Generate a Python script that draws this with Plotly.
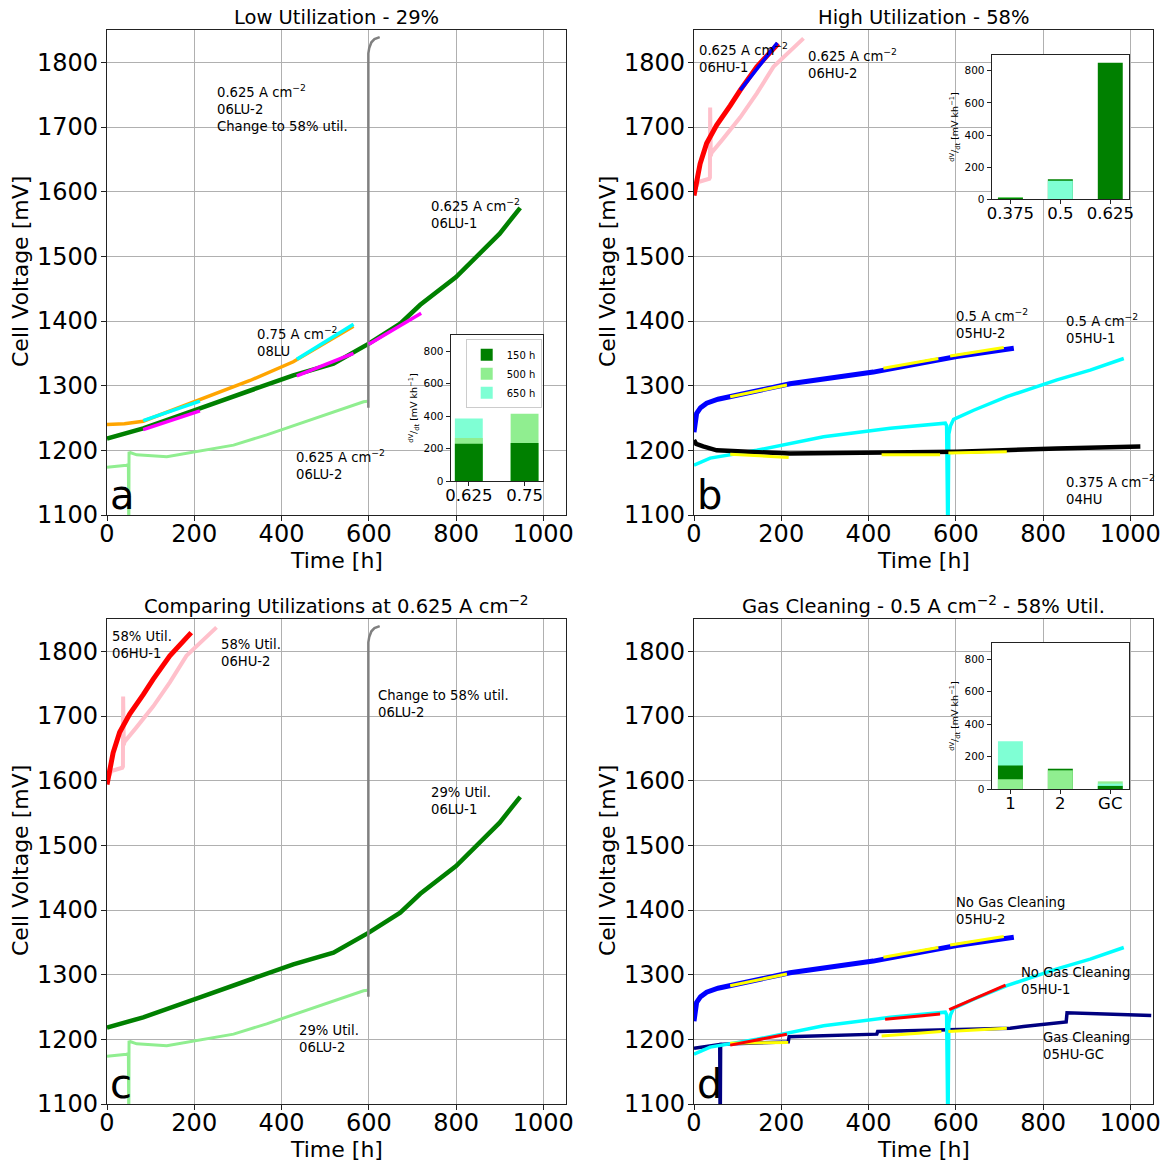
import plotly.graph_objects as go

W, H = 1170, 1162
FONT = "DejaVu Sans"

# ---------------- time series data ----------------
# 06LU-1 (0.625 A/cm2, 29 % util.)
LU1_t = [0, 83, 213, 328, 427, 519, 600, 672, 718, 800, 844, 900, 947]
LU1_v = [1218, 1234, 1265, 1293, 1316, 1334, 1365, 1396, 1425, 1468, 1497, 1535, 1575]
# 06LU-2 (0.625 A/cm2, 29 % util.)
LU2_t = [0, 20, 45, 49, 50, 50.5, 51, 68, 137, 206, 290, 366, 443, 519, 588, 597]
LU2_v = [1174, 1175, 1177, 1178, 1050, 1198, 1197, 1193, 1190, 1198, 1208, 1224, 1242, 1260, 1275, 1276]
# 06LU-2 after change to 58 % util.
LU2C_t = [599, 599, 601, 606, 613, 625]
LU2C_v = [1266, 1814, 1822, 1831, 1836, 1839]
# 08LU (0.75 A/cm2)
LU08_t = [0, 40, 83, 213, 328, 427, 565]
LU08_v = [1240, 1241, 1245, 1278, 1308, 1337, 1392]
# linear fits panel a
FITA_C1_t, FITA_C1_v = [83, 213], [1246, 1276]
FITA_C2_t, FITA_C2_v = [435, 565], [1341, 1395]
FITA_M1_t, FITA_M1_v = [83, 213], [1232, 1261]
FITA_M2_t, FITA_M2_v = [435, 565], [1315, 1350]
FITA_M3_t, FITA_M3_v = [600, 720], [1364, 1412]

# 06HU-1 (0.625 A/cm2, 58 % util.)
HU1_t = [0, 5, 14, 29, 52, 83, 106, 144, 193]
HU1_v = [1594, 1615, 1643, 1675, 1703, 1733, 1757, 1793, 1829]
# 06HU-2
HU2_t = [0, 10, 35, 36.5, 37, 38.5, 40, 67, 106, 144, 182, 251]
HU2_v = [1600, 1615, 1620, 1622, 1730, 1655, 1660, 1682, 1715, 1752, 1793, 1837]
FITB_HU1_t, FITB_HU1_v = [106, 191], [1757, 1830]
# 05HU-2 (0.5 A/cm2)
H05B_t = [0, 2, 6, 15, 29, 55, 83, 220, 411, 602, 733]
H05B_v = [1228, 1242, 1257, 1266, 1273, 1279, 1283, 1303, 1321, 1345, 1358]
# 05HU-1 (0.5 A/cm2)
H05A_t = [0, 37, 144, 297, 450, 576, 579, 580, 582, 584, 588, 595, 641, 717, 832, 908, 985]
H05A_v = [1177, 1188, 1200, 1221, 1234, 1242, 1238, 1050, 1050, 1225, 1238, 1248, 1262, 1283, 1309, 1324, 1342]
# 04HU (0.375 A/cm2)
H04_t = [0, 5, 21, 52, 220, 450, 602, 832, 1023]
H04_v = [1216, 1210, 1206, 1200, 1195, 1196, 1198, 1203, 1206]
# 05HU-GC (gas cleaning)
GC_t = [0, 45, 59, 60, 61, 90, 216, 218, 419, 421, 580, 725, 755, 840, 853, 855, 1048]
GC_v = [1186, 1190, 1192, 1050, 1192, 1193, 1196, 1204, 1208, 1212, 1214, 1217, 1220, 1226, 1227, 1241, 1237]

# linear fits (yellow / red segments)
FIT_H05B = [([83, 213], [1283, 1301]), ([434, 560], [1327, 1342]), ([587, 710], [1346, 1359])]
FIT_H04 = [([83, 217], [1194, 1189]), ([430, 564], [1193, 1193]), ([583, 717], [1196, 1198])]
FIT_H05A = [([83, 213], [1191, 1208]), ([438, 564], [1231, 1239]), ([585, 714], [1246, 1284])]
FIT_GC = [([83, 216], [1194, 1195]), ([430, 567], [1205, 1212]), ([583, 717], [1212, 1217])]

# ---------------- inset bar data (dV/dt, mV/kh) ----------------
SERIES = ["150 h", "500 h", "650 h"]
SERIES_COL = {"150 h": "#008000", "500 h": "#90EE90", "650 h": "#7FFFD4"}
INA_CATS = ["0.625", "0.75"]
INA_150 = [230, 235]
INA_500 = [265, 415]
INA_650 = [385, None]
INB_CATS = ["0.375", "0.5", "0.625"]
INB_150 = [6, 125, 850]
INB_500 = [15, None, None]
INB_650 = [None, 115, None]
IND_CATS = ["1", "2", "GC"]
IND_150 = [145, 125, 19]
IND_500 = [60, 115, 47]
IND_650 = [295, None, 33]

fig = go.Figure()


def line(t, v, color, width, ax):
    fig.add_trace(go.Scatter(x=t, y=v, mode="lines", line=dict(color=color, width=width),
                             xaxis="x" + ax, yaxis="y" + ax, showlegend=False, hoverinfo="skip"))


# ---- panel a ----
line(LU2_t, LU2_v, "#90EE90", 3, "")
line(LU1_t, LU1_v, "#008000", 4.5, "")
line(LU2C_t, LU2C_v, "#808080", 2.5, "")
line(LU08_t, LU08_v, "#FFA500", 3.5, "")
for t, v in [(FITA_C1_t, FITA_C1_v), (FITA_C2_t, FITA_C2_v)]:
    line(t, v, "#00FFFF", 3.5, "")
for t, v in [(FITA_M1_t, FITA_M1_v), (FITA_M2_t, FITA_M2_v), (FITA_M3_t, FITA_M3_v)]:
    line(t, v, "#FF00FF", 3.5, "")

# ---- panel b ----
line(H05A_t, H05A_v, "#00FFFF", 3.5, "2")
line(H04_t, H04_v, "#000000", 4.5, "2")
line(H05B_t, H05B_v, "#0000FF", 5, "2")
line(HU2_t, HU2_v, "#FFC0CB", 4, "2")
line(HU1_t, HU1_v, "#FF0000", 5, "2")
for t, v in FIT_H05B + FIT_H04:
    line(t, v, "#FFFF00", 3, "2")
line(FITB_HU1_t, FITB_HU1_v, "#0000FF", 3.5, "2")

# ---- panel c ----
line(LU2_t, LU2_v, "#90EE90", 3, "3")
line(LU1_t, LU1_v, "#008000", 4.5, "3")
line(LU2C_t, LU2C_v, "#808080", 2.5, "3")
line(HU2_t, HU2_v, "#FFC0CB", 4, "3")
line(HU1_t, HU1_v, "#FF0000", 5, "3")

# ---- panel d ----
line(GC_t, GC_v, "#000080", 3.5, "4")
line(H05B_t, H05B_v, "#0000FF", 5, "4")
line(H05A_t, H05A_v, "#00FFFF", 3.5, "4")
for t, v in FIT_H05B + FIT_GC:
    line(t, v, "#FFFF00", 3, "4")
for t, v in FIT_H05A:
    line(t, v, "#FF0000", 3, "4")


# ---- insets (bars overlaid, largest drawn first) ----
def inset(cats, s150, s500, s650, ax, legend):
    vals = {"150 h": s150, "500 h": s500, "650 h": s650}
    shown = set()
    for i, c in enumerate(cats):
        items = [(s, vals[s][i]) for s in SERIES if vals[s][i] is not None]
        items.sort(key=lambda p: -p[1])
        for s, v in items:
            show = legend and s not in shown
            shown.add(s)
            fig.add_trace(go.Bar(x=[c], y=[v], width=0.5, marker=dict(color=SERIES_COL[s], line=dict(width=0)),
                                 name=s, legendgroup=s, showlegend=show,
                                 legendrank=SERIES.index(s) + 1,
                                 xaxis="x" + ax, yaxis="y" + ax, hoverinfo="skip"))


inset(INA_CATS, INA_150, INA_500, INA_650, "5", True)
inset(INB_CATS, INB_150, INB_500, INB_650, "6", False)
inset(IND_CATS, IND_150, IND_500, IND_650, "7", False)


def px(x):
    return x / W


def py(y):
    return 1 - y / H


main_x = dict(range=[0, 1052], tickvals=[0, 200, 400, 600, 800, 1000], showgrid=True,
              gridcolor="#b0b0b0", gridwidth=1, showline=True, linecolor="#222", linewidth=1.2,
              mirror=True, ticks="outside", ticklen=5, tickcolor="#222", automargin=False,
              ticklabelstandoff=-8,
              tickfont=dict(family=FONT, size=24, color="black"), zeroline=False)
main_y = dict(range=[1100, 1850], tickvals=[1100, 1200, 1300, 1400, 1500, 1600, 1700, 1800],
              showgrid=True, gridcolor="#b0b0b0", gridwidth=1, showline=True, linecolor="#222",
              linewidth=1.2, mirror=True, ticks="outside", ticklen=5, tickcolor="#222", automargin=False,
              ticklabelstandoff=-2,
              tickfont=dict(family=FONT, size=24, color="black"), zeroline=False)

XL = [px(107), px(566)]
XR = [px(694), px(1153)]
YT = [py(515), py(30)]
YB = [py(1104), py(619)]

layout = dict(width=W, height=H, margin=dict(l=0, r=0, t=0, b=0, pad=0, autoexpand=False),
              paper_bgcolor="white", plot_bgcolor="white", barmode="overlay",
              font=dict(family=FONT, color="black"), showlegend=True)
for k, (xd, yd) in enumerate([(XL, YT), (XR, YT), (XL, YB), (XR, YB)]):
    s = "" if k == 0 else str(k + 1)
    layout["xaxis" + s] = dict(main_x, domain=xd, anchor="y" + s)
    layout["yaxis" + s] = dict(main_y, domain=yd, anchor="x" + s)

inset_y = dict(range=[0, 900], tickvals=[0, 200, 400, 600, 800], showgrid=False, showline=True,
               linecolor="#222", linewidth=1.2, mirror=True, ticks="outside", ticklen=4,
               tickcolor="#222", tickfont=dict(family=FONT, size=10.5, color="black"), zeroline=False,
               automargin=False,
               title=dict(text="<sup>dV</sup>/<sub>dt</sub> [mV kh<sup>−1</sup>]",
                          font=dict(family=FONT, size=9.5), standoff=4))
inset_x = dict(type="category", showgrid=False, showline=True, linecolor="#222", linewidth=1.2,
               mirror=True, ticks="outside", ticklen=4, tickcolor="#222", automargin=False,
               ticklabelstandoff=-5,
               tickfont=dict(family=FONT, size=16.5, color="black"))
layout["xaxis5"] = dict(inset_x, domain=[px(450.7), px(542.7)], anchor="y5", range=[-0.325, 1.325])
layout["yaxis5"] = dict(inset_y, domain=[py(481), py(335)], anchor="x5")
layout["xaxis6"] = dict(inset_x, domain=[px(991.7), px(1129)], anchor="y6", range=[-0.375, 2.375])
layout["yaxis6"] = dict(inset_y, domain=[py(199.3), py(54.7)], anchor="x6")
layout["xaxis7"] = dict(inset_x, domain=[px(991.7), px(1129)], anchor="y7", range=[-0.375, 2.375])
layout["yaxis7"] = dict(inset_y, domain=[py(789), py(643)], anchor="x7")

layout["legend"] = dict(x=px(465.7), y=py(339.3), xanchor="left", yanchor="top",
                        bgcolor="white", bordercolor="#cccccc", borderwidth=1,
                        font=dict(family=FONT, size=10), tracegroupgap=0, itemwidth=30)

# white backgrounds for insets (hide main-panel grid lines)
shapes = []
for ax in ["5", "6", "7"]:
    shapes.append(dict(type="rect", xref="x%s domain" % ax, yref="y%s domain" % ax,
                       x0=0, x1=1, y0=0, y1=1, fillcolor="white", line=dict(width=0), layer="below"))
layout["shapes"] = shapes

ann = []


def note(text, x, y, ax, size=13.2):
    ann.append(dict(text=text, x=x, y=y, xref="x" + ax, yref="y" + ax, xanchor="left", yanchor="top",
                    showarrow=False, align="left", font=dict(family=FONT, size=size, color="black")))


CM = "A cm<sup>−2</sup>"
note("0.625 " + CM + "<br>06LU-2<br>Change to 58% util.", 248, 1772, "")
note("0.625 " + CM + "<br>06LU-1", 739, 1597, "")
note("0.75 " + CM + "<br>08LU", 340, 1398, "")
note("0.625 " + CM + "<br>06LU-2", 429, 1208, "")
note("0.625 " + CM + "<br>06HU-1", 7, 1838, "2")
note("0.625 " + CM + "<br>06HU-2", 257, 1828, "2")
note("0.5 " + CM + "<br>05HU-2", 597, 1427, "2")
note("0.5 " + CM + "<br>05HU-1", 847, 1418, "2")
note("0.375 " + CM + "<br>04HU", 847, 1169, "2")
note("58% Util.<br>06HU-1", 7, 1837, "3")
note("58% Util.<br>06HU-2", 257, 1826, "3")
note("Change to 58% util.<br>06LU-2", 617, 1747, "3")
note("29% Util.<br>06LU-1", 739, 1597, "3")
note("29% Util.<br>06LU-2", 436, 1228, "3")
note("No Gas Cleaning<br>05HU-2", 597, 1427, "4")
note("No Gas Cleaning<br>05HU-1", 746, 1318, "4")
note("Gas Cleaning<br>05HU-GC", 796, 1217, "4")

for letter, ax in [("a", ""), ("b", "2"), ("c", "3"), ("d", "4")]:
    ann.append(dict(text=letter, x=3, y=1100.5, xref="x" + ax, yref="y" + ax, xanchor="left",
                    yanchor="bottom", yshift=-5, showarrow=False,
                    font=dict(family=FONT, size=40, color="black")))

titles = [("Low Utilization - 29%", (107 + 566) / 2, 17),
          ("High Utilization - 58%", (694 + 1153) / 2, 17),
          ("Comparing Utilizations at 0.625 A cm<sup>−2</sup>", (107 + 566) / 2, 605),
          ("Gas Cleaning - 0.5 A cm<sup>−2</sup> - 58% Util.", (694 + 1153) / 2, 605)]
for t, xc, yc in titles:
    ann.append(dict(text=t, x=px(xc), y=py(yc), xref="paper", yref="paper", xanchor="center",
                    yanchor="middle", showarrow=False, font=dict(family=FONT, size=19.5, color="black")))

for xc, yc in [((107 + 566) / 2, 560), ((694 + 1153) / 2, 560), ((107 + 566) / 2, 1149), ((694 + 1153) / 2, 1149)]:
    ann.append(dict(text="Time [h]", x=px(xc), y=py(yc), xref="paper", yref="paper", xanchor="center",
                    yanchor="middle", showarrow=False, font=dict(family=FONT, size=22, color="black")))
for xc, yc in [(20, 272), (607, 272), (20, 861), (607, 861)]:
    ann.append(dict(text="Cell Voltage [mV]", x=px(xc), y=py(yc), xref="paper", yref="paper",
                    xanchor="center", yanchor="middle", textangle=-90, showarrow=False,
                    font=dict(family=FONT, size=22, color="black")))

layout["annotations"] = ann
fig.update_layout(**layout)
fig.write_html("out.html")
